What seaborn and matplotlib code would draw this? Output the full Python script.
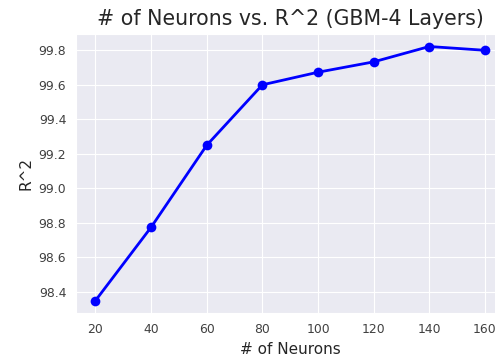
import matplotlib
matplotlib.use("Agg")
import matplotlib.pyplot as plt
import seaborn as sns
import pandas as pd

neurons = [20, 40, 60, 80, 100, 120, 140, 160]
r2 = [98.35, 98.775, 99.25, 99.60, 99.673, 99.733, 99.822, 99.80]

sns.set_style("darkgrid")
plt.rcParams["font.family"] = ["DejaVu Sans"]

df = pd.DataFrame({"neurons": neurons, "r2": r2})

fig = plt.figure(figsize=(4.95, 3.58), dpi=100)
ax = fig.add_axes([0.1535, 0.1248, 0.8655, 0.7808])
sns.lineplot(data=df, x="neurons", y="r2", ax=ax, color="blue",
             marker="o", markersize=7, markeredgewidth=0, linewidth=2)

ax.set_xticks([20, 40, 60, 80, 100, 120, 140, 160])
ax.set_yticks([98.4, 98.6, 98.8, 99.0, 99.2, 99.4, 99.6, 99.8])
ax.tick_params(labelsize=8.9, colors=".25")
ax.set_title("# of Neurons vs. R^2 (GBM-4 Layers)", fontsize=14.8, color=".15")
ax.set_xlabel("# of Neurons", fontsize=11, color=".15")
ax.set_ylabel("R^2", fontsize=11, color=".15")

fig.savefig("out.png", dpi=100)
